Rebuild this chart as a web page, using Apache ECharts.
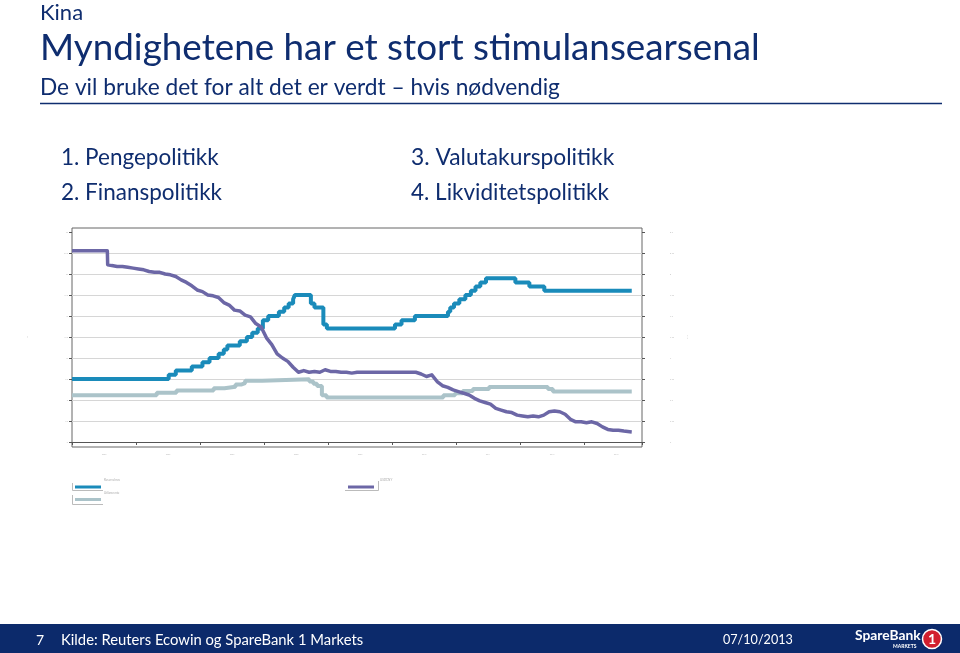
<!DOCTYPE html>
<html>
<head>
<meta charset="utf-8">
<title>Kina</title>
<script src="https://cdn.jsdelivr.net/npm/echarts@6/dist/echarts.min.js"></script>
<style>
  html, body { margin: 0; padding: 0; background: #fff; }
  #chart { width: 960px; height: 653px; }
</style>
</head>
<body>
<div id="chart"></div>
<script>
// reservekrav for små og mellomstore banker, % (venstre akse)
var rrrDates = ['2005-01-01', '2006-07-05', '2006-08-15', '2006-11-15', '2007-01-15', '2007-02-25',
  '2007-04-16', '2007-05-15', '2007-06-05', '2007-08-15', '2007-09-25', '2007-10-25', '2007-11-26',
  '2007-12-25', '2008-01-25', '2008-03-25', '2008-04-25', '2008-05-20', '2008-06-15', '2008-06-25',
  '2008-09-25', '2008-10-15', '2008-12-05', '2008-12-25', '2010-01-18', '2010-02-25', '2010-05-10',
  '2010-11-16', '2010-11-29', '2010-12-20', '2011-01-20', '2011-02-24', '2011-03-25', '2011-04-21',
  '2011-05-18', '2011-06-20', '2011-12-05', '2012-02-24', '2012-05-18', '2013-09-30'];
var rrrValues = [7.5, 8.0, 8.5, 9.0, 9.5, 10.0,
  10.5, 11.0, 11.5, 12.0, 12.5, 13.0, 13.5,
  14.5, 15.0, 15.5, 16.0, 16.5, 17.0, 17.5,
  16.5, 16.0, 14.0, 13.5, 14.0, 14.5, 15.0,
  15.5, 16.0, 16.5, 17.0, 17.5, 18.0, 18.5,
  19.0, 19.5, 19.0, 18.5, 18.0, 18.0];

// 1-års utlånsrente, % (venstre akse)
var loanDates = ['2005-01-01', '2006-04-28', '2006-08-19', '2007-03-18', '2007-05-19', '2007-07-21',
  '2007-08-22', '2007-09-15', '2007-12-21', '2008-09-16', '2008-10-09', '2008-10-30', '2008-11-27',
  '2008-12-23', '2010-10-20', '2010-12-26', '2011-02-09', '2011-04-06', '2011-07-07', '2012-06-08',
  '2012-07-06', '2013-09-30'];
var loanValues = [5.58, 5.85, 6.12, 6.39, 6.57, 6.84,
  7.02, 7.29, 7.47, 7.20, 6.93, 6.66, 5.58,
  5.31, 5.56, 5.81, 6.06, 6.31, 6.56, 6.31,
  6.00, 6.00];

// USDCNY, månedlig (høyre akse)
var fxDates = ['2005-01-01', '2005-02-15', '2005-03-15', '2005-04-15', '2005-05-15', '2005-06-15',
  '2005-07-20', '2005-07-22', '2005-08-15', '2005-09-15', '2005-10-15', '2005-11-15', '2005-12-15',
  '2006-01-15', '2006-02-15', '2006-03-15', '2006-04-15', '2006-05-15', '2006-06-15',
  '2006-07-15', '2006-08-15', '2006-09-15', '2006-10-15', '2006-11-15', '2006-12-15',
  '2007-01-15', '2007-02-15', '2007-03-15', '2007-04-15', '2007-05-15', '2007-06-15',
  '2007-07-15', '2007-08-15', '2007-09-15', '2007-10-15', '2007-11-15', '2007-12-15',
  '2008-01-15', '2008-02-15', '2008-03-15', '2008-04-15', '2008-05-15', '2008-06-15',
  '2008-07-15', '2008-08-15', '2008-09-15', '2008-10-15', '2008-11-15', '2008-12-15',
  '2009-01-15', '2009-02-15', '2009-03-15', '2009-04-15', '2009-05-15', '2009-06-15',
  '2009-07-15', '2009-08-15', '2009-09-15', '2009-10-15', '2009-11-15', '2009-12-15',
  '2010-01-15', '2010-02-15', '2010-03-15', '2010-04-15', '2010-05-15', '2010-06-15',
  '2010-07-15', '2010-08-15', '2010-09-15', '2010-10-15', '2010-11-15', '2010-12-15',
  '2011-01-15', '2011-02-15', '2011-03-15', '2011-04-15', '2011-05-15', '2011-06-15',
  '2011-07-15', '2011-08-15', '2011-09-15', '2011-10-15', '2011-11-15', '2011-12-15',
  '2012-01-15', '2012-02-15', '2012-03-15', '2012-04-15', '2012-05-15', '2012-06-15',
  '2012-07-15', '2012-08-15', '2012-09-15', '2012-10-15', '2012-11-15', '2012-12-15',
  '2013-01-15', '2013-02-15', '2013-03-15', '2013-04-15', '2013-05-15', '2013-06-15',
  '2013-07-15', '2013-08-15', '2013-09-30'];
var fxValues = [8.277, 8.276, 8.277, 8.276, 8.277, 8.276,
  8.276, 8.11, 8.10, 8.09, 8.09, 8.08, 8.07,
  8.06, 8.05, 8.03, 8.02, 8.02, 8.00,
  7.99, 7.97, 7.93, 7.90, 7.86, 7.81,
  7.79, 7.75, 7.74, 7.72, 7.66, 7.63,
  7.57, 7.56, 7.51, 7.49, 7.41, 7.37,
  7.24, 7.16, 7.05, 7.00, 6.96, 6.89,
  6.83, 6.85, 6.83, 6.84, 6.83, 6.86,
  6.84, 6.84, 6.83, 6.83, 6.82, 6.83,
  6.83, 6.83, 6.83, 6.83, 6.83, 6.83,
  6.83, 6.83, 6.83, 6.83, 6.83, 6.81,
  6.78, 6.80, 6.72, 6.67, 6.65, 6.62,
  6.60, 6.58, 6.56, 6.52, 6.49, 6.47,
  6.45, 6.40, 6.38, 6.36, 6.35, 6.32,
  6.31, 6.30, 6.31, 6.30, 6.32, 6.36,
  6.37, 6.36, 6.33, 6.27, 6.24, 6.24,
  6.23, 6.24, 6.22, 6.18, 6.15, 6.14,
  6.14, 6.13, 6.12];

var yearLabels = ['2005', '2006', '2007', '2008', '2009', '2010', '2011', '2012', '2013'];

var navy = '#0f2d6f';

// dato -> desimalår
function yr(s) {
  var p = s.split('-');
  return +p[0] + (p[1] - 1) / 12 + (p[2] - 1) / 365;
}
function pairs(dates, values) {
  var out = [];
  for (var i = 0; i < dates.length; i++) {
    out.push([yr(dates[i]), values[i]]);
  }
  return out;
}

var gridColors = ['rgba(0,0,0,0)'];
for (var i = 0; i < 9; i++) gridColors.push('#d6d6d6');
gridColors.push('rgba(0,0,0,0)');

var chart = echarts.init(document.getElementById('chart'));
chart.setOption({
  animation: false,
  textStyle: { fontFamily: 'Lato' },
  grid: [
    { left: 72, right: 318, top: 232, bottom: 211 },
    { left: 72, right: 318, top: 228, bottom: 206, show: true, borderColor: '#666', borderWidth: 1, backgroundColor: 'rgba(0,0,0,0)' }
  ],
  xAxis: [{
    type: 'value',
    gridIndex: 0,
    min: 2005,
    max: 2005 + 570 / 64,
    interval: 1,
    offset: 5,
    axisLine: { lineStyle: { color: '#555', width: 1 } },
    axisTick: { length: 3, lineStyle: { color: '#555' } },
    axisLabel: {
      fontSize: 2,
      color: '#bbb',
      margin: 6,
      padding: [0, 0, 0, 64],
      formatter: function (v) {
        var k = Math.round(v - 2005);
        return Math.abs(v - 2005 - k) < 1e-6 && yearLabels[k] ? yearLabels[k] : '';
      }
    },
    splitLine: { show: false }
  }, {
    type: 'value', gridIndex: 1, show: false, min: 0, max: 1
  }],
  yAxis: [{
    type: 'value',
    gridIndex: 0,
    position: 'left',
    min: 0,
    max: 25,
    interval: 2.5,
    name: '%',
    nameLocation: 'middle',
    nameGap: 44,
    nameTextStyle: { fontSize: 2, color: '#bbb' },
    axisLine: { show: false },
    axisTick: { show: true, length: 3, lineStyle: { color: '#555' } },
    axisLabel: { fontSize: 2, color: '#bbb', margin: 4 },
    splitLine: { show: true, lineStyle: { color: gridColors, width: 1 } }
  }, {
    type: 'value',
    gridIndex: 0,
    position: 'right',
    min: 6,
    max: 8.5,
    interval: 0.25,
    name: 'CNY',
    nameLocation: 'middle',
    nameGap: 44,
    nameTextStyle: { fontSize: 2, color: '#bbb' },
    axisLine: { show: false },
    axisTick: { show: true, length: 3, lineStyle: { color: '#555' } },
    axisLabel: { fontSize: 2, color: '#bbb', margin: 28 },
    splitLine: { show: false }
  }, {
    type: 'value', gridIndex: 1, show: false, min: 0, max: 1
  }],
  series: [{
    name: 'Utlånsrente',
    type: 'line',
    step: 'end',
    xAxisIndex: 0,
    yAxisIndex: 0,
    symbol: 'none',
    lineStyle: { color: '#abc3c9', width: 4 },
    data: pairs(loanDates, loanValues),
    z: 3
  }, {
    name: 'Reservekrav',
    type: 'line',
    step: 'end',
    xAxisIndex: 0,
    yAxisIndex: 0,
    symbol: 'none',
    lineStyle: { color: '#1a8bba', width: 4 },
    data: pairs(rrrDates, rrrValues),
    z: 4
  }, {
    name: 'USDCNY',
    type: 'line',
    xAxisIndex: 0,
    yAxisIndex: 1,
    symbol: 'none',
    lineStyle: { color: '#6c67a6', width: 3.5, join: 'round' },
    data: pairs(fxDates, fxValues),
    z: 5
  }],
  graphic: [
    // overskrifter
    { type: 'text', style: { text: 'Kina', x: 40, y: 13, font: '22px Lato', fill: navy, verticalAlign: 'middle' } },
    { type: 'text', style: { text: 'Myndighetene har et stort stimulansearsenal', x: 40, y: 48, font: '36.8px Lato', fill: navy, verticalAlign: 'middle' } },
    { type: 'text', style: { text: 'De vil bruke det for alt det er verdt \u2013 hvis n\u00f8dvendig', x: 40, y: 88, font: '22.7px Lato', fill: navy, verticalAlign: 'middle' } },
    { type: 'line', shape: { x1: 40, y1: 103.5, x2: 942, y2: 103.5 }, style: { stroke: navy, lineWidth: 1.5 } },
    { type: 'text', style: { text: '1. Pengepolitikk', x: 61, y: 158, font: '22.5px Lato', fill: navy, verticalAlign: 'middle' } },
    { type: 'text', style: { text: '2. Finanspolitikk', x: 61, y: 193, font: '22.5px Lato', fill: navy, verticalAlign: 'middle' } },
    { type: 'text', style: { text: '3. Valutakurspolitikk', x: 411, y: 158, font: '22.8px Lato', fill: navy, verticalAlign: 'middle' } },
    { type: 'text', style: { text: '4. Likviditetspolitikk', x: 411, y: 193, font: '22.5px Lato', fill: navy, verticalAlign: 'middle' } },

    // forklaring
    { type: 'polyline', shape: { points: [[72.5, 483], [72.5, 490.5], [103, 490.5]] }, style: { stroke: '#bbb', lineWidth: 1, fill: null } },
    { type: 'rect', shape: { x: 75, y: 485.5, width: 26, height: 3 }, style: { fill: '#1a8bba' } },
    { type: 'text', style: { text: 'Reservekrav', x: 104, y: 480, font: '3px Lato', fill: '#aaa', verticalAlign: 'middle' } },
    { type: 'polyline', shape: { points: [[72.5, 495], [72.5, 504.5], [103, 504.5]] }, style: { stroke: '#bbb', lineWidth: 1, fill: null } },
    { type: 'rect', shape: { x: 75, y: 498, width: 26, height: 3 }, style: { fill: '#abc3c9' } },
    { type: 'text', style: { text: 'Utlånsrente', x: 104, y: 493, font: '3px Lato', fill: '#aaa', verticalAlign: 'middle' } },
    { type: 'polyline', shape: { points: [[345, 490.5], [378.5, 490.5], [378.5, 481]] }, style: { stroke: '#bbb', lineWidth: 1, fill: null } },
    { type: 'rect', shape: { x: 348, y: 485.5, width: 26, height: 3 }, style: { fill: '#6c67a6' } },
    { type: 'text', style: { text: 'USDCNY', x: 380, y: 480, font: '3px Lato', fill: '#aaa', verticalAlign: 'middle' } },

    // bunnlinje
    { type: 'rect', shape: { x: 0, y: 624, width: 960, height: 29 }, style: { fill: '#0c2a6b' } },
    { type: 'text', style: { text: '7', x: 36, y: 640, font: '14px Lato', fill: '#fff', verticalAlign: 'middle' } },
    { type: 'text', style: { text: 'Kilde: Reuters Ecowin og SpareBank 1 Markets', x: 61, y: 640, font: '14.8px Lato', fill: '#fff', verticalAlign: 'middle' } },
    { type: 'text', style: { text: '07/10/2013', x: 723, y: 640, font: '12.6px Lato', fill: '#fff', verticalAlign: 'middle' } },
    { type: 'text', style: { text: 'SpareBank', x: 855, y: 636, font: 'bold 13.8px Lato', fill: '#fff', verticalAlign: 'middle' } },
    { type: 'text', style: { text: 'MARKETS', x: 893, y: 646.5, font: 'bold 5px Lato', fill: '#fff', verticalAlign: 'middle' } },
    { type: 'circle', shape: { cx: 932, cy: 639, r: 9.5 }, style: { fill: '#d21f2e', stroke: '#fff', lineWidth: 1.5 } },
    { type: 'text', style: { text: '1', x: 932, y: 639.5, font: 'bold 14px Lato', fill: '#fff', align: 'center', verticalAlign: 'middle' } }
  ]
});
</script>
</body>
</html>
